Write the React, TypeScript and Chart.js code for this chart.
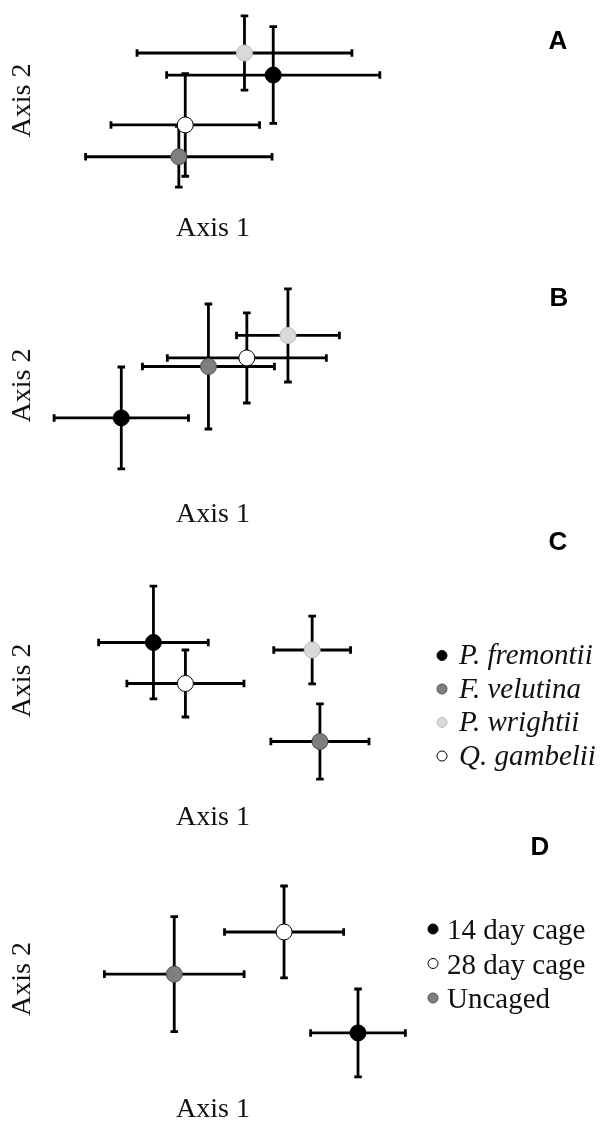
import React, { useEffect, useRef } from "react";
import { Chart, registerables } from "chart.js";

Chart.register(...registerables);

// ---------- categories ----------
const speciesNames = ["P. fremontii", "F. velutina", "P. wrightii", "Q. gambelii"];
const speciesFill = ["#000000", "#7f7f7f", "#d9d9d9", "#ffffff"];
const speciesEdge = ["#000000", "#505050", "#bdbdbd", "#000000"];

const cageNames = ["14 day cage", "28 day cage", "Uncaged"];
const cageFill = ["#000000", "#ffffff", "#7f7f7f"];
const cageEdge = ["#000000", "#000000", "#505050"];

// ---------- Panel A (species) : ordination means and SE ----------
const aAxis1 = [0.356, -0.202, 0.186, -0.164];
const aAxis2 = [0.278, -0.615, 0.519, -0.267];
const aSE1 = [0.63, 0.551, 0.635, 0.439];
const aSE2 = [0.529, 0.332, 0.406, 0.561];

// ---------- Panel B (species) ----------
const bAxis1 = [-0.542, -0.027, 0.443, 0.2];
const bAxis2 = [-0.323, 0.189, 0.498, 0.274];
const bSE1 = [0.397, 0.39, 0.304, 0.47];
const bSE2 = [0.507, 0.622, 0.463, 0.448];

// ---------- Panel C (species) ----------
const cAxis1 = [-0.352, 0.632, 0.586, -0.163];
const cAxis2 = [0.394, -0.632, 0.316, -0.031];
const cSE1 = [0.324, 0.29, 0.227, 0.346];
const cSE2 = [0.585, 0.389, 0.352, 0.347];

// ---------- Panel D (cage treatments) ----------
const dAxis1 = [0.857, 0.42, -0.229];
const dAxis2 = [-0.568, 0.495, 0.051];
const dSE1 = [0.28, 0.352, 0.413];
const dSE2 = [0.463, 0.484, 0.605];

const axisTitles = ["Axis 1", "Axis 2"];

const SERIF = "'Liberation Serif', 'Times New Roman', serif";
const SANS = "'Liberation Sans', Arial, sans-serif";
const TITLE_SIZE = 28;
const TITLE_LINE = TITLE_SIZE * 1.2;
const INK = "#111111";

type LegendSpec = {
  markerX: number;
  textX: number;
  firstBaseline: number;
  step: number;
  size: number;
  italic: boolean;
  markerLift: number;
};

type PanelSpec = {
  letter: string;
  names: string[];
  fill: string[];
  edge: string[];
  ax1: number[];
  ax2: number[];
  se1: number[];
  se2: number[];
  top: number;
  height: number;
  plotTop: number;
  plotBottom: number;
  axis1Y: number;
  letterX: number;
  letterY: number;
  legend?: LegendSpec;
};

const panels: PanelSpec[] = [
  {
    letter: "A", names: speciesNames, fill: speciesFill, edge: speciesEdge,
    ax1: aAxis1, ax2: aAxis2, se1: aSE1, se2: aSE2,
    top: 0, height: 250, plotTop: 5, plotBottom: 192, axis1Y: 228.5,
    letterX: 558, letterY: 40,
  },
  {
    letter: "B", names: speciesNames, fill: speciesFill, edge: speciesEdge,
    ax1: bAxis1, ax2: bAxis2, se1: bSE1, se2: bSE2,
    top: 250, height: 286, plotTop: 285, plotBottom: 486, axis1Y: 515,
    letterX: 559, letterY: 296.5,
  },
  {
    letter: "C", names: speciesNames, fill: speciesFill, edge: speciesEdge,
    ax1: cAxis1, ax2: cAxis2, se1: cSE1, se2: cSE2,
    top: 522, height: 317, plotTop: 584, plotBottom: 777, axis1Y: 818,
    letterX: 558, letterY: 541,
    legend: { markerX: 442, textX: 459, firstBaseline: 664, step: 33.5, size: 29, italic: true, markerLift: 8.5 },
  },
  {
    letter: "D", names: cageNames, fill: cageFill, edge: cageEdge,
    ax1: dAxis1, ax2: dAxis2, se1: dSE1, se2: dSE2,
    top: 826, height: 305, plotTop: 884, plotBottom: 1074, axis1Y: 1110,
    letterX: 540, letterY: 846,
    legend: { markerX: 433, textX: 447, firstBaseline: 939, step: 34.5, size: 29, italic: false, markerLift: 10 },
  },
];

const errorBarPlugin = {
  id: "errorBars",
  beforeDatasetsDraw(chart: any) {
    const { ctx } = chart;
    const xs = chart.scales.x;
    const ys = chart.scales.y;
    const cap = 3.8;
    ctx.save();
    ctx.strokeStyle = "#000000";
    ctx.lineWidth = 2.8;
    ctx.lineCap = "butt";
    chart.data.datasets.forEach((ds: any) => {
      ds.data.forEach((p: any, i: number) => {
        const cx = xs.getPixelForValue(p.x);
        const cy = ys.getPixelForValue(p.y);
        const x0 = xs.getPixelForValue(p.x - ds.se1[i]);
        const x1 = xs.getPixelForValue(p.x + ds.se1[i]);
        const y0 = ys.getPixelForValue(p.y - ds.se2[i]);
        const y1 = ys.getPixelForValue(p.y + ds.se2[i]);
        ctx.beginPath();
        ctx.moveTo(x0, cy); ctx.lineTo(x1, cy);
        ctx.moveTo(x0, cy - cap); ctx.lineTo(x0, cy + cap);
        ctx.moveTo(x1, cy - cap); ctx.lineTo(x1, cy + cap);
        ctx.moveTo(cx, y0); ctx.lineTo(cx, y1);
        ctx.moveTo(cx - cap, y0); ctx.lineTo(cx + cap, y0);
        ctx.moveTo(cx - cap, y1); ctx.lineTo(cx + cap, y1);
        ctx.stroke();
      });
    });
    ctx.restore();
  },
};

const decorPlugin = {
  id: "panelDecor",
  afterDraw(chart: any, _args: any, opts: any) {
    const { ctx } = chart;
    const top = opts.top as number;
    ctx.save();
    // panel letter
    const letterSize = 26;
    ctx.font = `bold ${letterSize}px ${SANS}`;
    ctx.fillStyle = "#000000";
    ctx.textAlign = "center";
    ctx.textBaseline = "alphabetic";
    ctx.fillText(opts.letter, opts.letterX, opts.letterY - top + letterSize * 0.716 / 2);
    // legend
    const lg: LegendSpec | undefined = opts.legend;
    if (lg) {
      ctx.font = `${lg.italic ? "italic " : ""}${lg.size}px ${SERIF}`;
      ctx.textAlign = "left";
      chart.data.datasets.forEach((ds: any, i: number) => {
        const base = lg.firstBaseline - top + i * lg.step;
        const my = base - lg.markerLift;
        ctx.beginPath();
        ctx.arc(lg.markerX, my, 5, 0, Math.PI * 2);
        ctx.fillStyle = ds.backgroundColor;
        ctx.fill();
        ctx.lineWidth = 1;
        ctx.strokeStyle = ds.borderColor;
        ctx.stroke();
        ctx.fillStyle = INK;
        ctx.fillText(ds.label, lg.textX, base);
      });
    }
    ctx.restore();
  },
};

function Panel({ spec }: { spec: PanelSpec }) {
  const ref = useRef<HTMLCanvasElement | null>(null);

  useEffect(() => {
    if (!ref.current) return;
    const plotTopRel = spec.plotTop - spec.top;
    const plotBottomRel = spec.plotBottom - spec.top;
    const xTitlePadTop = spec.axis1Y - TITLE_LINE / 2 - spec.plotBottom;
    const xTitlePadBottom = 4;
    const scaleBottom = plotBottomRel + xTitlePadTop + TITLE_LINE + xTitlePadBottom;
    const padBottom = Math.max(0, spec.height - scaleBottom);

    const datasets = spec.names.map((name, i) => ({
      label: name,
      data: [{ x: spec.ax1[i], y: spec.ax2[i] }],
      se1: [spec.se1[i]],
      se2: [spec.se2[i]],
      backgroundColor: spec.fill[i],
      borderColor: spec.edge[i],
      borderWidth: 1,
      pointRadius: 8,
      pointHoverRadius: 8,
      clip: false,
    }));

    const chart = new Chart(ref.current, {
      type: "scatter",
      data: { datasets } as any,
      options: {
        animation: false,
        responsive: false,
        maintainAspectRatio: false,
        events: [],
        layout: { padding: { left: 0, right: 219.8, top: plotTopRel, bottom: padBottom } },
        scales: {
          x: {
            type: "linear",
            min: -1,
            max: 1,
            grid: { display: false, drawTicks: false },
            border: { display: false },
            ticks: { display: false },
            title: {
              display: true,
              text: axisTitles[0],
              color: INK,
              font: { family: SERIF, size: TITLE_SIZE },
              padding: { top: xTitlePadTop, bottom: xTitlePadBottom },
            },
          },
          y: {
            type: "linear",
            min: -1,
            max: 1,
            grid: { display: false, drawTicks: false },
            border: { display: false },
            ticks: { display: false },
            title: {
              display: true,
              text: axisTitles[1],
              color: INK,
              font: { family: SERIF, size: TITLE_SIZE },
              padding: { top: 6.2, bottom: 4 },
            },
          },
        },
        plugins: {
          legend: { display: false },
          tooltip: { enabled: false },
          title: { display: false },
          panelDecor: {
            top: spec.top,
            letter: spec.letter,
            letterX: spec.letterX,
            letterY: spec.letterY,
            legend: spec.legend,
          },
        } as any,
      },
      plugins: [errorBarPlugin, decorPlugin],
    });
    return () => chart.destroy();
  }, [spec]);

  return (
    <div style={{ position: "absolute", left: 0, top: spec.top, width: 602, height: spec.height }}>
      <canvas ref={ref} width={602} height={spec.height} style={{ display: "block" }} />
    </div>
  );
}

export default function App() {
  return (
    <div
      style={{
        position: "absolute",
        left: 0,
        top: 0,
        width: 602,
        height: 1123,
        overflow: "hidden",
        background: "#ffffff",
      }}
    >
      {panels.map((p) => (
        <Panel key={p.letter} spec={p} />
      ))}
    </div>
  );
}
